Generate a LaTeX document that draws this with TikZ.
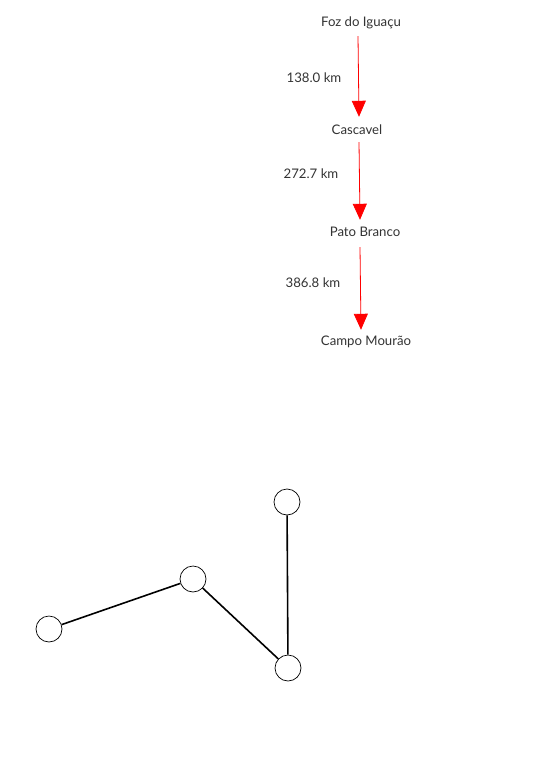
\documentclass[tikz,border=0pt]{standalone}
\usepackage{fontspec}
\setmainfont{Lato}
\usepackage{xcolor}
\usepackage{tikz}
\usetikzlibrary{arrows.meta,positioning}

\definecolor{txtgray}{HTML}{333333}

\begin{document}
\begin{tikzpicture}[
    x=1pt, y=-1pt,
    city/.style={inner sep=0pt, minimum height=24pt, text=txtgray, font=\fontsize{13.2}{15}\selectfont},
    dist/.style={inner sep=0pt, text=txtgray, font=\fontsize{13.2}{15}\selectfont},
    route/.style={draw=red, line width=0.8pt, -{Triangle[length=16pt, width=14pt]}},
    vertex/.style={circle, draw, fill=white, line width=0.7pt, minimum size=26pt, inner sep=0pt},
    link/.style={draw, line width=1.6pt}
]
\useasboundingbox (0,0) rectangle (548,783);

% route between cities
\node[city] (foz) at (361,23) {Foz do Iguaçu};
\node[city] (cascavel) at (357,130) {Cascavel};
\node[city] (pato) at (365,232) {Pato Branco};
\node[city] (campo) at (366,342) {Campo Mourão};

\node[dist] (d1) at (314,78) {138.0 km};
\node[dist] (d2) at (311,174) {272.7 km};
\node[dist] (d3) at (313,283) {386.8 km};

\draw[route] ([xshift=-3pt,yshift=-1pt]foz.south) -- ([xshift=2pt,yshift=1pt]cascavel.north);
\draw[route] ([xshift=2pt]cascavel.south) -- ([xshift=-5pt]pato.north);
\draw[route] ([xshift=-5pt,yshift=-3pt]pato.south) -- ([xshift=-5pt]campo.north);

% small graph
\node[vertex] (a) at (49,629) {};
\node[vertex] (b) at (193,579) {};
\node[vertex] (c) at (287,502) {};
\node[vertex] (d) at (288,668) {};

\draw[link] (a) -- (b);
\draw[link] (b) -- (d);
\draw[link] (c) -- (d);
\end{tikzpicture}
\end{document}
